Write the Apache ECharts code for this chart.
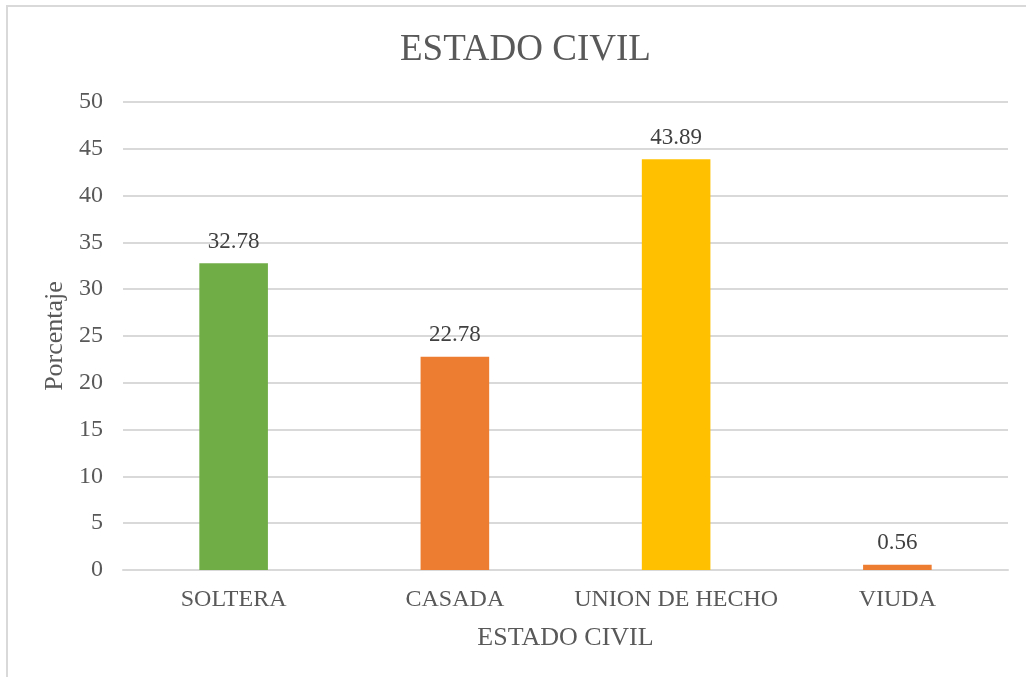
<!DOCTYPE html>
<html>
<head>
<meta charset="utf-8">
<script src="https://cdn.jsdelivr.net/npm/echarts@6/dist/echarts.min.js"></script>
<style>
  html, body { margin: 0; padding: 0; background: #fff; }
  #chart { width: 1026px; height: 677px; }
  .frame { position: absolute; left: 6px; top: 5px; width: 1040px; height: 700px; border: 2px solid #d9d9d9; box-sizing: border-box; pointer-events: none; }
</style>
</head>
<body>
<div id="chart"></div>
<div class="frame"></div>
<script>
  var categories = ['SOLTERA', 'CASADA', 'UNION DE HECHO', 'VIUDA'];
  var values = [32.78, 22.78, 43.89, 0.56];
  var barColors = ['#70AD47', '#ED7D31', '#FFC000', '#ED7D31'];

  var serif = '"Liberation Serif", "Times New Roman", serif';
  var myChart = echarts.init(document.getElementById('chart'));
  var option = {
    animation: false,
    title: {
      text: 'ESTADO CIVIL',
      left: 395,
      top: 27,
      textStyle: { fontFamily: serif, fontSize: 37, fontWeight: 'normal', color: '#595959' }
    },
    grid: { left: 123, right: 18, top: 102, bottom: 107 },
    xAxis: {
      type: 'category',
      data: categories,
      name: 'ESTADO CIVIL',
      nameLocation: 'middle',
      nameGap: 55,
      nameTextStyle: { fontFamily: serif, fontSize: 26, color: '#595959' },
      axisLine: { lineStyle: { color: '#d9d9d9', width: 2 } },
      axisTick: { show: false },
      axisLabel: { interval: 0, fontFamily: serif, fontSize: 24, color: '#595959', margin: 18 }
    },
    yAxis: {
      type: 'value',
      min: 0,
      max: 50,
      interval: 5,
      name: 'Porcentaje',
      nameLocation: 'middle',
      nameGap: 53,
      nameTextStyle: { fontFamily: serif, fontSize: 26, color: '#595959' },
      axisLine: { show: false },
      axisTick: { show: false },
      axisLabel: { fontFamily: serif, fontSize: 24, color: '#595959', margin: 20 },
      splitLine: { lineStyle: { color: '#d9d9d9', width: 2 } }
    },
    series: [{
      type: 'bar',
      data: values.map(function (v, i) {
        return { value: v, itemStyle: { color: barColors[i] } };
      }),
      barWidth: '31%',
      label: {
        show: true,
        position: 'top',
        distance: 10,
        fontFamily: serif,
        fontSize: 23,
        color: '#404040'
      }
    }]
  };
  myChart.setOption(option);
</script>
</body>
</html>
